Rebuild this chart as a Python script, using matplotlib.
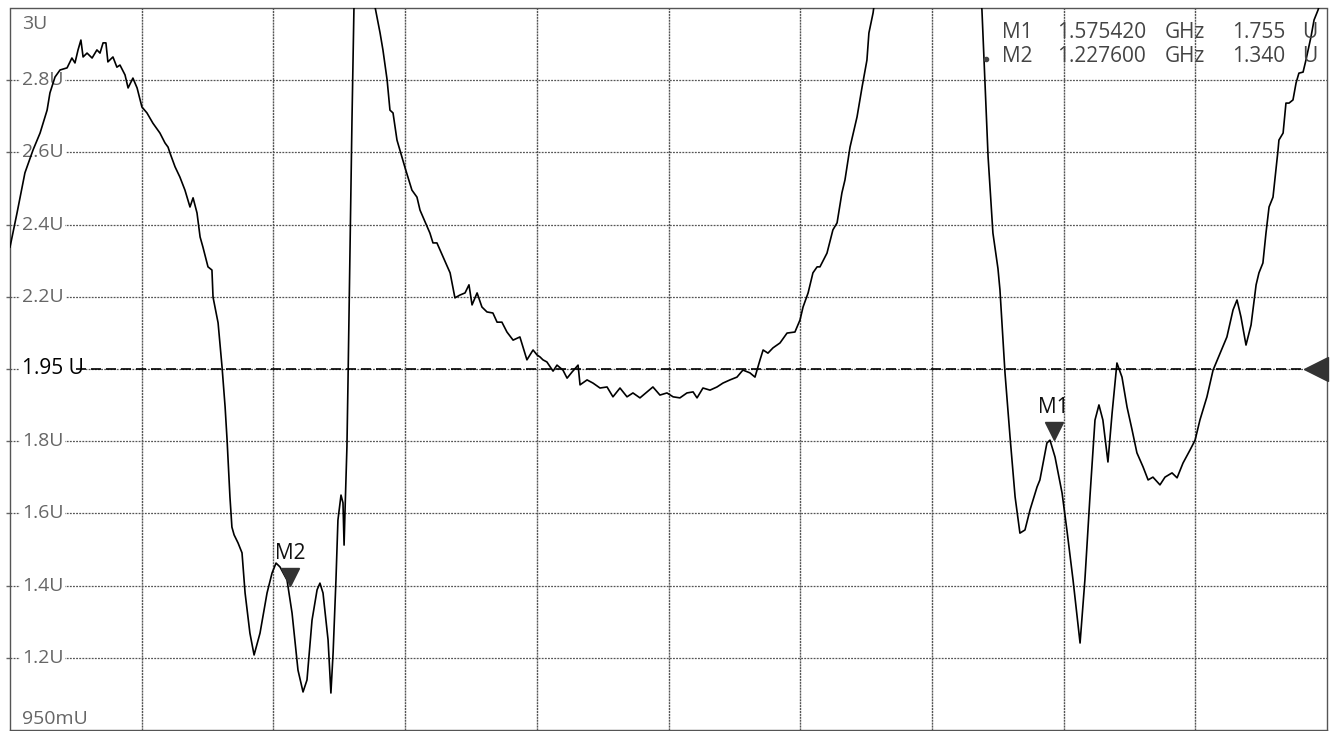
import numpy as np
import matplotlib
matplotlib.use("Agg")
import matplotlib.pyplot as plt
from matplotlib.transforms import offset_copy

plt.rcParams["font.family"] = ["Open Sans", "DejaVu Sans"]

# Развёртка: 1.1 ... 1.7 ГГц, шкала КСВН 950mU ... 3U
f_start, f_stop = 1.1, 1.7
v_bottom, v_top = 0.95, 3.0

# Трасса КСВН
freq_ghz = [
    1.1000, 1.1032, 1.1068, 1.1105, 1.1137, 1.1169, 1.1182, 1.1205, 1.1228, 1.1260,
    1.1282, 1.1296, 1.1310, 1.1323, 1.1333, 1.1351, 1.1374, 1.1396, 1.1410, 1.1424,
    1.1437, 1.1446, 1.1469, 1.1487, 1.1501, 1.1524, 1.1538, 1.1560, 1.1579, 1.1601,
    1.1624, 1.1651, 1.1683, 1.1706, 1.1720, 1.1729, 1.1752, 1.1774, 1.1797, 1.1820,
    1.1834, 1.1852, 1.1866, 1.1879, 1.1902, 1.1920, 1.1925, 1.1948, 1.1966, 1.1980,
    1.1989, 1.2002, 1.2011, 1.2021, 1.2039, 1.2057, 1.2071, 1.2093, 1.2112, 1.2139,
    1.2171, 1.2194, 1.2212, 1.2230, 1.2262, 1.2285, 1.2312, 1.2335, 1.2353, 1.2376,
    1.2399, 1.2412, 1.2426, 1.2449, 1.2462, 1.2472, 1.2485, 1.2494, 1.2508, 1.2517,
    1.2522, 1.2526, 1.2535, 1.2540, 1.2549, 1.2558, 1.2567, 1.2604, 1.2640, 1.2663,
    1.2686, 1.2699, 1.2718, 1.2731, 1.2745, 1.2763, 1.2800, 1.2831, 1.2854, 1.2868,
    1.2913, 1.2927, 1.2945, 1.2973, 1.3005, 1.3027, 1.3050, 1.3073, 1.3091, 1.3105,
    1.3128, 1.3150, 1.3173, 1.3200, 1.3219, 1.3241, 1.3264, 1.3292, 1.3323, 1.3355,
    1.3383, 1.3401, 1.3415, 1.3428, 1.3446, 1.3474, 1.3492, 1.3519, 1.3538, 1.3560,
    1.3588, 1.3597, 1.3629, 1.3656, 1.3688, 1.3720, 1.3747, 1.3779, 1.3811, 1.3838,
    1.3870, 1.3902, 1.3929, 1.3961, 1.3993, 1.4021, 1.4052, 1.4084, 1.4112, 1.4130,
    1.4157, 1.4189, 1.4221, 1.4248, 1.4280, 1.4312, 1.4339, 1.4371, 1.4394, 1.4417,
    1.4431, 1.4453, 1.4476, 1.4508, 1.4540, 1.4576, 1.4599, 1.4613, 1.4636, 1.4658,
    1.4677, 1.4690, 1.4722, 1.4749, 1.4768, 1.4790, 1.4804, 1.4827, 1.4859, 1.4882,
    1.4904, 1.4913, 1.4932, 1.4964, 1.5191, 1.5410, 1.5428, 1.5442, 1.5456, 1.5478,
    1.5501, 1.5510, 1.5533, 1.5556, 1.5579, 1.5601, 1.5624, 1.5647, 1.5679, 1.5692,
    1.5724, 1.5738, 1.5761, 1.5793, 1.5815, 1.5843, 1.5875, 1.5897, 1.5920, 1.5943,
    1.5961, 1.5979, 1.6002, 1.6021, 1.6043, 1.6066, 1.6089, 1.6112, 1.6134, 1.6162,
    1.6185, 1.6207, 1.6239, 1.6262, 1.6294, 1.6317, 1.6344, 1.6376, 1.6399, 1.6421,
    1.6453, 1.6481, 1.6513, 1.6544, 1.6572, 1.6590, 1.6608, 1.6631, 1.6654, 1.6677,
    1.6690, 1.6708, 1.6722, 1.6736, 1.6754, 1.6777, 1.6781, 1.6800, 1.6813, 1.6827,
    1.6845, 1.6859, 1.6872, 1.6891, 1.6904, 1.6927, 1.6941, 1.6959, 1.7000,
]
vswr = [
    2.321, 2.418, 2.532, 2.597, 2.645, 2.710, 2.759, 2.804, 2.824, 2.830,
    2.858, 2.844, 2.881, 2.909, 2.861, 2.872, 2.858, 2.881, 2.872, 2.901,
    2.901, 2.847, 2.861, 2.832, 2.838, 2.810, 2.773, 2.801, 2.773, 2.719,
    2.702, 2.673, 2.645, 2.617, 2.605, 2.588, 2.549, 2.520, 2.483, 2.435,
    2.461, 2.418, 2.350, 2.321, 2.265, 2.256, 2.179, 2.106, 1.981, 1.867,
    1.773, 1.612, 1.526, 1.504, 1.481, 1.453, 1.339, 1.225, 1.163, 1.225,
    1.339, 1.396, 1.424, 1.413, 1.376, 1.282, 1.120, 1.058, 1.092, 1.262,
    1.348, 1.367, 1.339, 1.206, 1.055, 1.169, 1.376, 1.546, 1.617, 1.595,
    1.475, 1.566, 1.754, 1.944, 2.313, 2.682, 3.000, 3.363, 3.193, 3.003,
    2.929, 2.881, 2.796, 2.710, 2.702, 2.625, 2.546, 2.483, 2.463, 2.426,
    2.361, 2.333, 2.333, 2.293, 2.248, 2.177, 2.185, 2.191, 2.214, 2.157,
    2.191, 2.151, 2.137, 2.134, 2.108, 2.108, 2.080, 2.057, 2.066, 2.001,
    2.029, 2.015, 2.009, 2.001, 1.995, 1.969, 1.986, 1.972, 1.949, 1.966,
    1.986, 1.930, 1.944, 1.935, 1.921, 1.924, 1.896, 1.921, 1.896, 1.907,
    1.893, 1.910, 1.924, 1.901, 1.907, 1.896, 1.893, 1.907, 1.910, 1.893,
    1.921, 1.915, 1.924, 1.935, 1.944, 1.952, 1.972, 1.964, 1.952, 2.001,
    2.029, 2.020, 2.035, 2.049, 2.077, 2.080, 2.114, 2.151, 2.191, 2.248,
    2.265, 2.265, 2.304, 2.370, 2.390, 2.475, 2.512, 2.605, 2.691, 2.776,
    2.852, 2.929, 2.986, 3.136, 3.591, 3.136, 2.994, 2.787, 2.577, 2.361,
    2.260, 2.200, 1.964, 1.782, 1.612, 1.509, 1.518, 1.575, 1.640, 1.660,
    1.765, 1.773, 1.725, 1.623, 1.518, 1.376, 1.197, 1.376, 1.612, 1.830,
    1.873, 1.830, 1.711, 1.850, 1.992, 1.952, 1.867, 1.802, 1.737, 1.697,
    1.660, 1.668, 1.646, 1.668, 1.680, 1.666, 1.708, 1.745, 1.773, 1.830,
    1.896, 1.972, 2.020, 2.066, 2.143, 2.171, 2.123, 2.043, 2.100, 2.214,
    2.248, 2.276, 2.361, 2.435, 2.463, 2.597, 2.625, 2.645, 2.730, 2.730,
    2.739, 2.787, 2.815, 2.818, 2.852, 2.918, 2.966, 2.994, 3.080,
]

# Подписи шкалы Y (по линиям сетки снизу вверх)
y_labels = ["950mU", "1.2U", "1.4U", "1.6U", "1.8U", "", "2.2U", "2.4U", "2.6U", "2.8U", "3U"]
ref_label = "1.95 U"

# Маркеры
marker_names = ["M1", "M2"]
marker_freq = [1.575420, 1.227600]
marker_vswr = [1.755, 1.340]

gray = "#666666"
grid_col = "#555555"

fig = plt.figure(figsize=(13.31, 7.31), dpi=100)
ax = fig.add_axes([10 / 1331, 1 / 731, 1317 / 1331, 722 / 731])
ax.set_xlim(f_start, f_stop)
ax.set_ylim(v_bottom, v_top)

y_grid = np.linspace(v_bottom, v_top, 11)
x_grid = np.linspace(f_start, f_stop, 11)
for y in y_grid[1:-1]:
    ax.axhline(y, color=grid_col, lw=0.9, ls=(0, (1.5, 1)), zorder=1)
for x in x_grid[1:-1]:
    ax.axvline(x, color=grid_col, lw=1.0, ls=(0, (1.5, 0.6)), zorder=1)

for s in ax.spines.values():
    s.set_color(grid_col)
    s.set_linestyle((0, (1.5, 1)))
    s.set_linewidth(1.0)

ax.set_xticks([])
ax.set_yticks(y_grid[1:-1])
ax.set_yticklabels([])
ax.tick_params(axis="y", direction="out", length=3, width=1, color=gray)

# подписи уровней
for y, lab in zip(y_grid[1:-1], y_labels[1:-1]):
    if lab:
        ax.text(0.009, y, lab, transform=ax.get_yaxis_transform(), fontsize=14,
                color=gray, va="center", ha="left", zorder=2,
                bbox=dict(facecolor="white", edgecolor="none", pad=1.5))
ax.text(0.009, v_top - 0.02, y_labels[-1], transform=ax.get_yaxis_transform(),
        fontsize=14, color=gray, va="top", ha="left", zorder=2)
ax.text(0.009, v_bottom + 0.005, y_labels[0], transform=ax.get_yaxis_transform(),
        fontsize=14, color=gray, va="bottom", ha="left", zorder=2)

# опорный уровень
ref_y = (v_bottom + v_top) / 2
ax.text(0.009, ref_y, ref_label, transform=ax.get_yaxis_transform(), fontsize=15,
        color="black", va="center", ha="left", zorder=2,
        bbox=dict(facecolor="white", edgecolor="none", pad=2))
ax.plot([f_start + 0.03, f_stop], [ref_y, ref_y], color="black", lw=1.2,
        ls=(0, (6, 3)), zorder=2)
ref_tr = offset_copy(ax.transData, fig=fig, x=-8, y=0, units="points")
ax.plot([f_stop], [ref_y], marker="<", ms=17, color="#333333", transform=ref_tr,
        clip_on=False, zorder=4)

# трасса
ax.plot(freq_ghz, vswr, color="black", lw=1.2, zorder=3)

# маркеры на трассе
tri_tr = offset_copy(ax.transData, fig=fig, x=0, y=11, units="points")
lab_tr = offset_copy(ax.transData, fig=fig, x=0, y=28, units="points")
for name, f, v in zip(marker_names, marker_freq, marker_vswr):
    ax.plot([f], [v], marker="v", ms=13, color="#333333", transform=tri_tr, zorder=4)
    ax.text(f, v, name, transform=lab_tr, fontsize=15, ha="center", va="center",
            color="#111111", zorder=4)

# таблица маркеров
def px(xp, yp):
    return (xp - 10) / 1317, 1 - (yp - 8) / 722

cols_x = [1002, 1057, 1165, 1232, 1302]
rows_y = [33, 56]
for name, f, v, yp in zip(marker_names, marker_freq, marker_vswr, rows_y):
    parts = [name, f"{f:.6f}", "GHz", f"{v:.3f}", "U"]
    for xp, t in zip(cols_x, parts):
        ax.text(*px(xp, yp), t, transform=ax.transAxes, fontsize=15, color="#444444",
                ha="left", va="center", zorder=5)
ax.plot(*px(986, 59), marker="o", ms=3, color="#444444", transform=ax.transAxes,
        zorder=5)

fig.savefig("out.png", dpi=100, facecolor="white")
